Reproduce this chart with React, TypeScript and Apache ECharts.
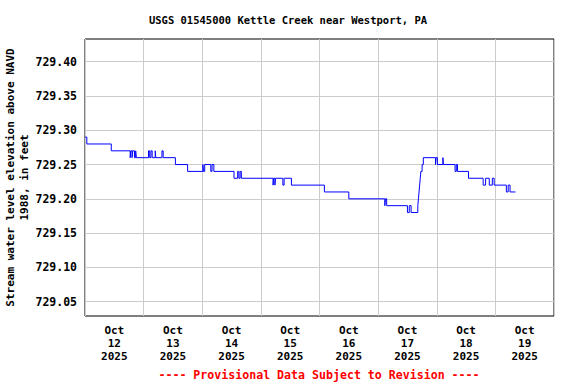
import React, { useEffect, useRef } from "react";
import * as echarts from "echarts";

// Hours since Oct 12 2025 00:00 at which the gage height changed
const hours = [
  0, 0.75, 10.75, 18.5, 18.75, 19.25, 19.5, 20.25, 20.75, 21,
  26, 26.5, 27, 27.5, 28.75, 29, 31.5, 32, 37, 42,
  48.25, 48.5, 49, 51.5, 52, 52.75, 61, 62.5, 63, 63.5, 64,
  77, 77.25, 77.75, 78, 81, 81.5, 84.5, 98, 108,
  122.75, 123, 123.5, 132, 132.75, 133.5,
  136.25, 136.5, 136.75, 137, 137.25, 137.5, 138, 138.5,
  143.5, 143.75, 144.25, 146.5, 146.75, 151.5, 152, 152.5, 157,
  163, 164, 165.5, 166.75, 167.5, 172.5, 173.25, 174, 176.25,
];
const values = [
  729.29, 729.28, 729.27, 729.26, 729.27, 729.26, 729.27, 729.26, 729.27, 729.26,
  729.27, 729.26, 729.27, 729.26, 729.27, 729.26, 729.27, 729.26, 729.25, 729.24,
  729.25, 729.24, 729.25, 729.24, 729.25, 729.24, 729.23, 729.24, 729.23, 729.24, 729.23,
  729.22, 729.23, 729.22, 729.23, 729.22, 729.23, 729.22, 729.21, 729.2,
  729.19, 729.2, 729.19, 729.18, 729.19, 729.18,
  729.19, 729.2, 729.21, 729.22, 729.23, 729.24, 729.25, 729.26,
  729.25, 729.26, 729.25, 729.26, 729.25, 729.24, 729.25, 729.24, 729.23,
  729.22, 729.23, 729.22, 729.23, 729.22, 729.21, 729.22, 729.21, 729.21,
];

const dayLabelHours = [12, 36, 60, 84, 108, 132, 156, 180];
const dayLabels = ["Oct\n12\n2025", "Oct\n13\n2025", "Oct\n14\n2025", "Oct\n15\n2025", "Oct\n16\n2025", "Oct\n17\n2025", "Oct\n18\n2025", "Oct\n19\n2025"];
const yTicks = [729.05, 729.1, 729.15, 729.2, 729.25, 729.3, 729.35, 729.4];

const FONT = "'DejaVu Sans Mono', 'Liberation Mono', monospace";

export default function App() {
  const ref = useRef<HTMLDivElement>(null);
  useEffect(() => {
    if (!ref.current) return;
    const chart = echarts.init(ref.current, null, { renderer: "svg" });
    const data = hours.map((h, i) => [h, values[i]]);
    chart.setOption({
      animation: false,
      backgroundColor: "#ffffff",
      title: [
        {
          text: "USGS 01545000 Kettle Creek near Westport, PA",
          left: "center",
          top: 9,
          textStyle: { fontFamily: FONT, fontSize: 10.5, fontWeight: "bold", color: "#000" },
        },
      ],
      graphic: [
        {
          type: "text",
          x: 319,
          y: 375,
          style: {
            text: "---- Provisional Data Subject to Revision ----",
            fill: "#ff0000",
            font: "bold 11.6px " + FONT,
            textAlign: "center",
            textVerticalAlign: "middle",
          },
        },
      ],
      grid: {
        left: 85,
        right: 22,
        top: 39,
        bottom: 68,
        show: true,
        borderColor: "#000",
        borderWidth: 1,
        backgroundColor: "transparent",
        containLabel: false,
        outerBoundsMode: "none",
      },
      xAxis: [
        {
          type: "value",
          min: 0,
          max: 192,
          interval: 24,
          axisLine: { show: false },
          axisTick: { show: false },
          axisLabel: { show: false },
          splitLine: { show: true, lineStyle: { color: "#cccccc", width: 1 } },
        },
        {
          type: "value",
          min: 0,
          max: 192,
          position: "bottom",
          axisLine: { show: false },
          axisTick: { show: false },
          splitLine: { show: false },
          axisLabel: {
            customValues: dayLabelHours,
            formatter: (v: number) => dayLabels[dayLabelHours.indexOf(Math.round(v))] ?? "",
            fontFamily: FONT,
            fontSize: 11,
            fontWeight: "bold",
            color: "#000",
            lineHeight: 13,
            margin: 8,
          },
        },
      ],
      yAxis: {
        type: "value",
        min: 729.0291,
        max: 729.4331,
        name: "Stream water level elevation above NAVD\n1988, in feet",
        nameLocation: "middle",
        nameGap: 54,
        nameMoveOverlap: false,
        nameRotate: 90,
        nameTextStyle: { fontFamily: FONT, fontSize: 11, fontWeight: "bold", color: "#000", lineHeight: 14 },
        axisLine: { show: false },
        axisTick: { show: false, customValues: yTicks },
        axisLabel: {
          customValues: yTicks,
          formatter: (v: number) => v.toFixed(2),
          fontFamily: FONT,
          fontSize: 11.5,
          fontWeight: "bold",
          color: "#000",
          margin: 8,
        },
        splitLine: { show: true, lineStyle: { color: "#cccccc", width: 1 } },
      },
      series: [
        {
          type: "line",
          xAxisIndex: 0,
          data,
          step: "end",
          showSymbol: false,
          symbol: "none",
          lineStyle: { color: "#0000ff", width: 1 },
          silent: true,
        },
      ],
    });
    return () => chart.dispose();
  }, []);
  return <div ref={ref} style={{ width: 576, height: 384, position: "absolute", left: 0, top: 0 }} />;
}
